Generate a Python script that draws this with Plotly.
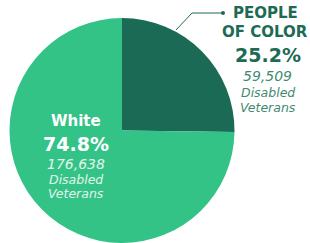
import plotly.graph_objects as go

labels = ["People of Color", "White"]
values = [59509, 176638]
percents = ["25.2%", "74.8%"]
counts = ["59,509", "176,638"]
colors = ["#1b6a56", "#34c387"]

W, H = 310, 243
def px(x): return x / W
def py(y): return 1 - y / H

fig = go.Figure(go.Pie(
    labels=labels, values=values, sort=False, direction="clockwise", rotation=0,
    marker=dict(colors=colors, line=dict(width=0)), textinfo="none", hoverinfo="skip",
    domain=dict(x=[px(8), px(236)], y=[0, py(18)]), showlegend=False,
))

font = "DejaVu Sans"
dark = "#1d6a55"
darklight = "#3f8b71"
pale = "#e2f5ec"
ann = []
def add(x, y, text, size, color, bold=False, italic=False):
    t = text
    if bold:
        t = "<b>" + t + "</b>"
    if italic:
        t = "<i>" + t + "</i>"
    ann.append(dict(x=px(x), y=py(y), xref="paper", yref="paper", text=t, showarrow=False,
                    xanchor="center", yanchor="middle", font=dict(family=font, size=size, color=color)))

add(76, 121, "White", 15, "white", bold=True)
add(76, 144, percents[1], 19, "white", bold=True)
add(76, 164, counts[1], 14, pale, italic=True)
add(76, 179, "Disabled", 12.5, pale, italic=True)
add(76, 193, "Veterans", 12.5, pale, italic=True)

add(265, 13, "PEOPLE", 15, dark, bold=True)
add(265, 32, "OF COLOR", 15, dark, bold=True)
add(268, 55, percents[0], 19, dark, bold=True)
add(267, 76, counts[0], 14, darklight, italic=True)
add(268, 92, "Disabled", 12.5, darklight, italic=True)
add(268, 107, "Veterans", 12.5, darklight, italic=True)

shapes = [
    dict(type="line", xref="paper", yref="paper", x0=px(176), y0=py(30), x1=px(192), y1=py(13),
         line=dict(color=dark, width=1)),
    dict(type="line", xref="paper", yref="paper", x0=px(192), y0=py(13), x1=px(223), y1=py(13),
         line=dict(color=dark, width=1)),
    dict(type="circle", xref="paper", yref="paper", x0=px(221), y0=py(11), x1=px(225), y1=py(15),
         fillcolor=dark, line=dict(width=0)),
]

fig.update_layout(width=W, height=H, margin=dict(l=0, r=0, t=0, b=0),
                  paper_bgcolor="white", plot_bgcolor="white", annotations=ann, shapes=shapes)
fig.write_html("out.html", post_script="document.body.style.margin='0';",
               config={"displayModeBar": False})
